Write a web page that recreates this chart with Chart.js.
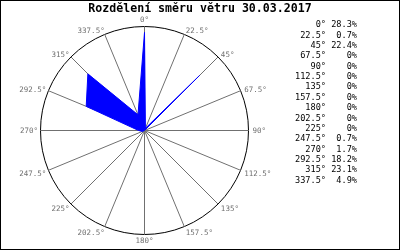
<!DOCTYPE html>
<html>
<head>
<meta charset="utf-8">
<script src="https://cdn.jsdelivr.net/npm/chart.js@4.4.1/dist/chart.umd.min.js"></script>
<style>
  html, body { margin: 0; padding: 0; background: #fff; }
  canvas { display: block; }
</style>
</head>
<body>
<canvas id="rose" width="400" height="250"></canvas>
<script>
// Wind direction distribution for one day
const chartTitle = 'Rozdělení směru větru 30.03.2017';
const directions = ['0°', '22.5°', '45°', '67.5°', '90°', '112.5°', '135°', '157.5°',
                    '180°', '202.5°', '225°', '247.5°', '270°', '292.5°', '315°', '337.5°'];
const shares = [28.3, 0.7, 22.4, 0, 0, 0, 0, 0, 0, 0, 0, 0.7, 1.7, 18.2, 23.1, 4.9];
const scaleMax = 30;

const MONO = '"DejaVu Sans Mono", "Liberation Mono", monospace';

// Draws title, direction labels, the text table on the right and the frame
const roseDecor = {
  id: 'roseDecor',
  beforeDraw(chart) {
    // shift half a pixel so axis-aligned lines come out crisp
    chart.ctx.save();
    chart.ctx.translate(0.5, 0.5);
  },
  afterDraw(chart) {
    const ctx = chart.ctx;
    ctx.restore();
    const scale = chart.scales.r;

    // direction labels round the circle
    ctx.save();
    ctx.font = '7.5px ' + MONO;
    ctx.fillStyle = '#707070';
    directions.forEach((label, i) => {
      const p = scale.getPointPosition(i, scale.drawingArea + 4);
      const a = i * 22.5 * Math.PI / 180;
      const s = Math.sin(a), c = Math.cos(a);
      let x = p.x + 0.5, y = p.y + 0.5;
      if (Math.abs(s) < 0.01) {
        ctx.textAlign = 'center';
        ctx.textBaseline = c > 0 ? 'bottom' : 'top';
        y += c > 0 ? 1 : -1;
      } else {
        ctx.textAlign = s > 0 ? 'left' : 'right';
        ctx.textBaseline = 'middle';
        if (s < 0) x += 1.5;
        y += c < -0.1 ? 2.5 : 0.5;
      }
      ctx.fillText(label, x, y);
    });
    ctx.restore();

    // title
    ctx.save();
    ctx.font = 'bold 11.6px ' + MONO;
    ctx.fillStyle = '#000';
    ctx.textAlign = 'center';
    ctx.textBaseline = 'middle';
    ctx.fillText(chartTitle, 200, 9);

    // table of shares
    ctx.font = '8.6px ' + MONO;
    ctx.textAlign = 'right';
    directions.forEach((label, i) => {
      const y = 25 + i * 10.37;
      const pct = shares[i] === 0 ? '0%' : shares[i].toFixed(1) + '%';
      ctx.fillText(label, 326, y);
      ctx.fillText(pct, 357, y);
    });

    // frame
    ctx.strokeStyle = '#000';
    ctx.lineWidth = 1;
    ctx.strokeRect(0.5, 0.5, 399, 249);
    ctx.restore();
  }
};

new Chart(document.getElementById('rose'), {
  type: 'radar',
  data: {
    labels: directions,
    datasets: [{
      data: shares,
      fill: true,
      backgroundColor: '#0000ff',
      borderColor: '#0000ff',
      borderWidth: 1,
      pointRadius: 0,
      tension: 0
    }]
  },
  options: {
    responsive: false,
    animation: false,
    layout: { padding: { left: 40, top: 26, right: 152, bottom: 16 } },
    plugins: {
      legend: { display: false },
      tooltip: { enabled: false }
    },
    scales: {
      r: {
        min: 0,
        max: scaleMax,
        ticks: { display: false, stepSize: scaleMax },
        grid: { circular: true, color: '#000', lineWidth: 1 },
        angleLines: { color: '#707070', lineWidth: 1 },
        pointLabels: { display: false }
      }
    }
  },
  plugins: [roseDecor]
});
</script>
</body>
</html>
